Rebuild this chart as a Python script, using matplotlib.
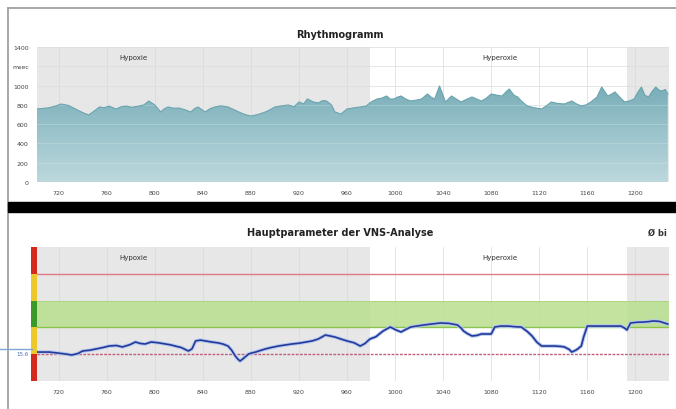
import numpy as np
import matplotlib
matplotlib.use("Agg")
import matplotlib.pyplot as plt
import matplotlib.patheffects as pe
from matplotlib.colors import LinearSegmentedColormap
from matplotlib.patches import Rectangle

# ---- data -------------------------------------------------------------
# Rhythmogramm (time in s, RR interval in msec)
rr_time = [702, 712, 718, 722, 728, 734, 740, 745, 750, 754, 758, 762, 765, 768, 772,
           776, 781, 787, 791, 795, 800, 805, 808, 811, 816, 820, 825, 830, 833, 836,
           842, 846, 850, 855, 861, 866, 870, 875, 880, 886, 892, 896, 900, 906, 911,
           916, 920, 924, 927, 932, 936, 940, 943, 947, 950, 955, 960, 966, 971, 976,
           980, 985, 989, 993, 996, 999, 1002, 1005, 1009, 1013, 1018, 1022, 1027, 1030,
           1033, 1037, 1042, 1047, 1051, 1055, 1060, 1064, 1068, 1072, 1076, 1080, 1085,
           1089, 1092, 1095, 1099, 1102, 1106, 1110, 1116, 1122, 1126, 1130, 1135, 1141,
           1147, 1151, 1155, 1159, 1163, 1168, 1172, 1175, 1177, 1180, 1183, 1187, 1191,
           1195, 1199, 1202, 1205, 1208, 1211, 1214, 1217, 1220, 1222, 1225, 1227]
rr_msec = [757, 770, 790, 809, 795, 757, 720, 695, 740, 778, 770, 788, 770, 757, 780,
           788, 775, 788, 800, 840, 799, 726, 760, 778, 765, 767, 750, 726, 760, 778,
           726, 760, 778, 790, 778, 750, 726, 700, 684, 700, 726, 750, 778, 790, 799,
           780, 830, 810, 861, 830, 820, 845, 840, 800, 726, 705, 757, 770, 778, 788,
           830, 861, 870, 892, 860, 861, 880, 892, 860, 840, 850, 861, 913, 880,
           861, 996, 830, 892, 860, 830, 860, 882, 860, 840, 870, 913, 900,
           892, 930, 965, 900, 882, 830, 788, 770, 757, 790, 830, 815, 809,
           840, 810, 788, 800, 830, 880, 985, 930, 892, 910, 934, 880, 830,
           840, 861, 930, 985, 900, 882, 940, 985, 950, 944, 960, 913]

# VNS main parameter (time in s, index on 0..100 band scale)
vns_time = [702, 712, 720, 726, 731, 736, 740, 746, 751, 757, 762, 768, 773, 779, 784,
            788, 792, 797, 803, 809, 813, 817, 822, 828, 831, 834, 838, 842, 848, 853,
            857, 861, 864, 867, 869, 871, 874, 878, 881, 884, 888, 892, 897, 903, 908,
            914, 920, 926, 931, 936, 942, 946, 950, 955, 960, 966, 971, 975, 979, 984,
            990, 996, 1001, 1005, 1009, 1013, 1018, 1024, 1030, 1038, 1045, 1052, 1055,
            1057, 1060, 1064, 1068, 1072, 1077, 1080, 1083, 1088, 1094, 1100, 1105,
            1110, 1114, 1118, 1122, 1128, 1133, 1138, 1141, 1145, 1147, 1150, 1152,
            1155, 1157, 1160, 1166, 1172, 1180, 1188, 1191, 1193, 1196, 1201, 1207,
            1211, 1215, 1220, 1227]
vns_val = [21.6, 21.6, 20.8, 20.1, 19.4, 20.5, 22.4, 23.0, 23.9, 25.0, 26.1, 26.5, 25.4, 27.0, 29.1,
           28.0, 27.6, 29.1, 28.5, 27.6, 27.0, 26.1, 25.0, 22.4, 24.0, 29.9, 30.5, 29.9, 29.0, 28.4,
           27.5, 26.1, 23.0, 18.7, 16.5, 14.9, 17.0, 20.1, 21.0, 21.6, 22.8, 23.9, 25.0, 26.1, 26.8,
           27.6, 28.2, 29.1, 29.9, 31.3, 34.3, 33.6, 32.8, 31.3, 29.9, 28.5, 26.1, 28.0, 31.3, 33.0,
           37.3, 40.3, 38.0, 36.6, 38.5, 40.3, 41.0, 41.8, 42.5, 43.3, 43.0, 41.8, 39.5,
           37.3, 35.5, 33.6, 34.0, 35.1, 35.1, 35.1, 40.3, 41.0, 41.0, 40.5, 40.3,
           37.0, 33.6, 29.0, 26.1, 26.1, 26.1, 25.8, 25.4, 23.5, 21.6, 22.8, 23.9,
           26.1, 33.0, 41.0, 41.0, 41.0, 41.0, 41.0, 39.5, 38.1, 43.3, 43.8, 44.0,
           44.3, 44.8, 44.5, 42.5]

x_ticks = [720, 760, 800, 840, 880, 920, 960, 1000, 1040, 1080, 1120, 1160, 1200]
x_tick_labels = ["720", "760", "800", "840", "880", "920", "960", "1000", "1040",
                 "1080", "1120", "1160", "1200"]
rr_yticks = [0, 200, 400, 600, 800, 1000, 1200, 1400]
rr_ylabels = ["0", "200", "400", "600", "800", "1000", "msec", "1400"]

phase_names = ["Hypoxie", "Hyperoxie", ""]
phase_starts = [702, 979, 1193]
phase_ends = [979, 1193, 1228]
phase_gray = [True, False, True]
phase_label_x = [782, 1087, None]

band_lo = [0, 20, 40, 60, 80]
band_hi = [20, 40, 60, 80, 100]
band_colors = ["#d42a1e", "#ecc82a", "#3a9a28", "#ecc82a", "#d42a1e"]
green_zone = (40, 60)
upper_limit = 80
lower_limit = 20
ref_label = "15.6"

XMIN, XMAX = 702, 1228
GRAY = "#e7e7e7"

fig = plt.figure(figsize=(6.76, 4.10), dpi=100)
fig.patch.set_facecolor("white")

# frame lines and separator bar
fig.add_artist(plt.Line2D([8/676, 8/676], [0, 1 - 9/410], color="#9a9a9a", lw=1.2))
fig.add_artist(plt.Line2D([8/676, 1], [1 - 9/410, 1 - 9/410], color="#9a9a9a", lw=1.2))
fig.add_artist(Rectangle((8/676, 1 - 213/410), 1 - 8/676, 10/410, transform=fig.transFigure,
                         color="black", zorder=5))


def style_axis(ax, label_y):
    ax.set_xlim(XMIN, XMAX)
    for s in ax.spines.values():
        s.set_visible(False)
    ax.set_xticks(x_ticks)
    ax.set_xticklabels(x_tick_labels)
    ax.tick_params(length=0, labelsize=4.5, labelcolor="#444444", pad=6)
    for xt in x_ticks:
        ax.axvline(xt, color="#d9d9d9", lw=0.5, zorder=0.5)
    for name, a, b, g, lx in zip(phase_names, phase_starts, phase_ends, phase_gray,
                                 phase_label_x):
        if g:
            ax.axvspan(a, b, color=GRAY, lw=0, zorder=0)
        if name:
            ax.text(lx, label_y, name, ha="center", va="center", fontsize=5,
                    color="#333333", zorder=4)


# ======================================================================
# Top: Rhythmogramm
# ======================================================================
ax1 = fig.add_axes([37/676, 1 - 183/410, 632/676, 135/410])
style_axis(ax1, 1300)
ax1.set_ylim(0, 1400)
ax1.set_yticks(rr_yticks)
ax1.set_yticklabels(rr_ylabels)
for yt in rr_yticks[1:]:
    ax1.axhline(yt, color="#dcdcdc", lw=0.5, zorder=0.6)

poly = ax1.fill_between(rr_time, rr_msec, 0, color="none", lw=0)
cmap = LinearSegmentedColormap.from_list("rr", ["#bcd8dd", "#9cc4cc", "#78adb8"])
grad = ax1.imshow(np.linspace(0, 1, 256).reshape(-1, 1), cmap=cmap, aspect="auto",
                  origin="lower", extent=[XMIN, XMAX, 0, 1000], zorder=2)
grad.set_clip_path(poly.get_paths()[0], transform=ax1.transData)
ax1.plot(rr_time, rr_msec, color="#6aa4af", lw=0.8, zorder=3)
for yt in rr_yticks[1:5]:
    ax1.axhline(yt, color="white", lw=0.4, alpha=0.35, zorder=2.5)
ax1.set_xlim(XMIN, XMAX)
ax1.set_ylim(0, 1400)

fig.text(340/676, 1 - 35/410, "Rhythmogramm", ha="center", va="center",
         fontsize=7, fontweight="bold", color="#222222")

# ======================================================================
# Bottom: Hauptparameter der VNS-Analyse
# ======================================================================
ax2 = fig.add_axes([37/676, 1 - 382/410, 632/676, 134/410])
style_axis(ax2, 92.5)
ax2.set_ylim(0, 100)
ax2.set_yticks([])

ax2.axhspan(green_zone[0], green_zone[1], color="#b9df8e", alpha=0.85, lw=0, zorder=1)
ax2.axhline(green_zone[0], color="#8cc34e", lw=1.0, zorder=1.5)
ax2.axhline(green_zone[1], color="#a9d47c", lw=0.6, zorder=1.5)
ax2.axhline(upper_limit, color="#df7b86", lw=1.0, zorder=1.5)
ax2.axhline(lower_limit, color="#c0607a", lw=1.0, ls=(0, (2, 1)), zorder=1.5)

ax2.plot(vns_time, vns_val, color="#25399a", lw=1.2, zorder=3,
         path_effects=[pe.Stroke(linewidth=2.6, foreground="#b4c8ee"), pe.Normal()])

# traffic light bar left of plot
for lo, hi, c in zip(band_lo, band_hi, band_colors):
    ax2.add_patch(Rectangle((-0.009, lo / 100), 0.009, (hi - lo) / 100,
                            transform=ax2.transAxes, color=c, clip_on=False, lw=0))

fig.add_artist(plt.Line2D([0, 32/676], [1 - 350/410, 1 - 350/410], color="#7da6d6", lw=1.0))
fig.text(22/676, 1 - 355/410, ref_label, ha="center", va="center", fontsize=4,
         color="#4a6fb5")

fig.text(340/676, 1 - 233/410, "Hauptparameter der VNS-Analyse", ha="center", va="center",
         fontsize=7, fontweight="bold", color="#222222")
fig.text(648/676, 1 - 233/410, "Ø bi", ha="left", va="center",
         fontsize=6, fontweight="bold", color="#333333")

fig.savefig("out.png", dpi=100)
